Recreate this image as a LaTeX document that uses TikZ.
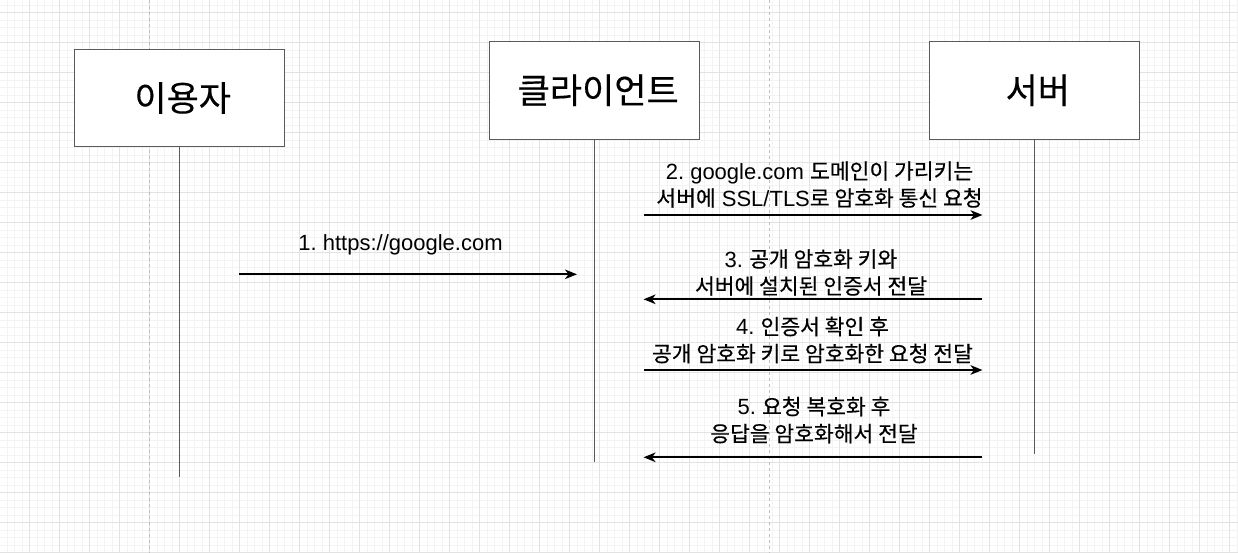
\documentclass[tikz,border=0pt]{standalone}
\usepackage{fontspec}
\setmainfont{Liberation Sans}
\newfontfamily\krfont[FakeBold=0.35]{Noto Sans CJK KR}
\usetikzlibrary{arrows.meta}
\frenchspacing
\newcommand\K[1]{{\krfont\fontsize{21.5}{27}\selectfont #1}}
\newcommand\KB[1]{{\krfont\fontsize{35}{40}\selectfont\hspace*{7pt}#1}}
\definecolor{gridmajor}{HTML}{E2E2E2}
\definecolor{gridminor}{HTML}{F3F3F3}
\definecolor{pageline}{HTML}{BDBDBD}
\definecolor{boxline}{HTML}{5A5A5A}
\tikzset{
  actor/.style={draw=boxline, line width=1pt, fill=white, minimum width=210pt, minimum height=97.5pt, inner sep=0pt},
  lifeline/.style={draw=boxline, line width=1pt},
  msg/.style={draw=black, line width=2.2pt, -{Stealth[length=12pt,width=9.5pt,inset=3.5pt]}},
  msglabel/.style={align=center, inner sep=0pt, font=\fontsize{22}{27}\selectfont\frenchspacing},
}
\begin{document}
\begin{tikzpicture}[x=1pt,y=-1pt]
\useasboundingbox (0,0) rectangle (1238,553);
\fill[white] (0,0) rectangle (1238,553);
% grid
\foreach \i in {0,...,166}{
  \draw[gridminor, line width=0.6pt] ({-0.7+7.5*\i},0) -- ({-0.7+7.5*\i},553);
}
\foreach \i in {0,...,74}{
  \draw[gridminor, line width=0.6pt] (0,{5.2+7.5*\i}) -- (1238,{5.2+7.5*\i});
}
\foreach \i in {-1,...,41}{
  \draw[gridmajor, line width=0.8pt] ({29.3+30*\i},0) -- ({29.3+30*\i},553);
}
\foreach \i in {0,...,18}{
  \draw[gridmajor, line width=0.8pt] (0,{12.7+30*\i}) -- (1238,{12.7+30*\i});
}
% page borders
\draw[pageline, line width=0.8pt, dash pattern=on 3pt off 3pt] (149.3,0) -- (149.3,553);
\draw[pageline, line width=0.8pt, dash pattern=on 3pt off 3pt] (769.3,0) -- (769.3,553);

% actors
\node[actor] (user) at (179.2,98) {\KB{이용자}};
\node[actor] (client) at (594.7,90.3) {\KB{클라이언트}};
\node[actor] (server) at (1034.3,90.3) {\KB{서버}};

% lifeline ends
\coordinate (userEnd) at (179.2,476.7);
\coordinate (clientEnd) at (594.7,461.7);
\coordinate (serverEnd) at (1034.3,454.3);
\draw[lifeline] (user.south) -- (userEnd);
\draw[lifeline] (client.south) -- (clientEnd);
\draw[lifeline] (server.south) -- (serverEnd);

% message endpoints
\coordinate (m1s) at (239.3,274.3); \coordinate (m1e) at (577,274.3);
\coordinate (m2s) at (644,215);     \coordinate (m2e) at (982.5,215);
\coordinate (m3s) at (982,299.3);   \coordinate (m3e) at (643.5,299.3);
\coordinate (m4s) at (644,370);     \coordinate (m4e) at (982.5,370);
\coordinate (m5s) at (982,457.3);   \coordinate (m5e) at (643.5,457.3);

\draw[msg] (m1s) -- (m1e);
\draw[msg] (m2s) -- (m2e);
\draw[msg] (m3s) -- (m3e);
\draw[msg] (m4s) -- (m4e);
\draw[msg] (m5s) -- (m5e);

% labels
\node[msglabel] (l1) at (400.5,245) {1. https://google.com};
\node[msglabel] (l2) at (819.5,184.5) {2. google.com \K{도메인이 가리키는}\\\K{서버에} SSL/TLS\K{로 암호화 통신 요청}};
\node[msglabel] (l3) at (811,272.5) {3. \K{공개 암호화 키와}\\\K{서버에 설치된 인증서 전달}};
\node[msglabel] (l4) at (812.5,340) {4. \K{인증서 확인 후}\\\K{공개 암호화 키로 암호화한 요청 전달}};
\node[msglabel] (l5) at (814,420) {5. \K{요청 복호화 후}\\\K{응답을 암호화해서 전달}};
\end{tikzpicture}
\end{document}
